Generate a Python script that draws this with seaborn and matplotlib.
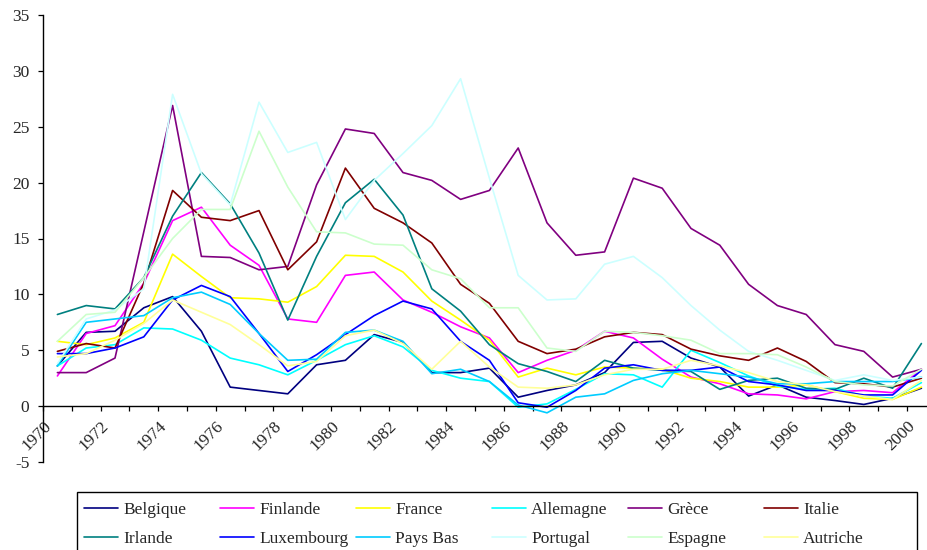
import numpy as np
import pandas as pd
import matplotlib
matplotlib.use('Agg')
import matplotlib.pyplot as plt
import seaborn as sns

sns.set_theme(style="ticks")
plt.rcParams['font.family'] = ['Liberation Serif', 'DejaVu Serif']
plt.rcParams['font.size'] = 12
plt.rcParams['axes.unicode_minus'] = False

years = list(range(1970, 2001))

belgique = [3.6, 6.6, 6.7, 8.8, 9.8, 6.7, 1.7, 1.4, 1.1, 3.7, 4.1, 6.4, 5.7, 3.0, 3.0, 3.4,
            0.8, 1.4, 1.9, 3.0, 5.7, 5.8, 4.3, 3.5, 0.9, 1.9, 0.8, 0.5, 0.15, 0.7, 1.6]
finlande = [2.7, 6.5, 7.2, 11.0, 16.6, 17.8, 14.4, 12.6, 7.8, 7.5, 11.7, 12.0, 9.5, 8.4, 7.1, 6.1,
            3.0, 4.1, 5.0, 6.7, 6.1, 4.2, 2.6, 2.0, 1.1, 1.0, 0.65, 1.3, 1.4, 1.2, 3.3]
france = [5.8, 5.5, 6.1, 7.5, 13.6, 11.6, 9.7, 9.6, 9.3, 10.7, 13.5, 13.4, 12.0, 9.4, 7.7, 5.9,
          2.6, 3.4, 2.8, 3.5, 3.4, 3.3, 2.5, 2.2, 1.7, 1.7, 1.9, 1.3, 0.7, 0.6, 1.7]
allemagne = [3.6, 5.2, 5.5, 7.0, 6.9, 5.9, 4.3, 3.7, 2.8, 4.1, 5.5, 6.3, 5.3, 3.2, 2.5, 2.2,
             -0.1, 0.2, 1.5, 2.9, 2.8, 1.7, 5.0, 3.9, 2.7, 1.8, 1.5, 1.6, 0.9, 0.7, 2.1]
grece = [3.0, 3.0, 4.3, 15.6, 26.9, 13.4, 13.3, 12.2, 12.5, 19.8, 24.8, 24.4, 20.9, 20.2, 18.5, 19.3,
         23.1, 16.4, 13.5, 13.8, 20.4, 19.5, 15.9, 14.4, 10.9, 9.0, 8.2, 5.5, 4.9, 2.6, 3.3]
italie = [4.9, 5.6, 5.2, 11.0, 19.3, 16.9, 16.6, 17.5, 12.2, 14.7, 21.3, 17.7, 16.4, 14.6, 10.9, 9.2,
          5.8, 4.7, 5.1, 6.2, 6.6, 6.4, 5.1, 4.5, 4.1, 5.2, 4.0, 2.1, 2.0, 1.7, 2.5]
irlande = [8.2, 9.0, 8.7, 11.5, 17.0, 20.9, 18.1, 13.7, 7.7, 13.4, 18.2, 20.3, 17.1, 10.5, 8.5, 5.5,
           3.8, 3.1, 2.2, 4.1, 3.4, 3.2, 3.1, 1.5, 2.3, 2.5, 1.6, 1.5, 2.5, 1.6, 5.6]
luxembourg = [4.7, 4.7, 5.2, 6.2, 9.5, 10.8, 9.8, 6.5, 3.1, 4.6, 6.4, 8.1, 9.4, 8.7, 5.8, 4.1,
              0.3, -0.1, 1.4, 3.4, 3.7, 3.2, 3.2, 3.5, 2.2, 1.9, 1.4, 1.4, 1.0, 1.0, 3.2]
pays_bas = [3.6, 7.5, 7.8, 8.1, 9.7, 10.2, 9.1, 6.5, 4.1, 4.2, 6.6, 6.8, 5.8, 2.9, 3.3, 2.2,
            0.1, -0.6, 0.8, 1.1, 2.3, 2.9, 3.2, 2.9, 2.6, 2.0, 2.0, 2.2, 2.2, 2.2, 2.6]
portugal = [3.8, 7.8, 8.6, 10.5, 27.9, 20.8, 18.0, 27.2, 22.7, 23.6, 16.7, 20.2, 22.6, 25.1, 29.3, 20.4,
            11.7, 9.5, 9.6, 12.7, 13.4, 11.5, 9.0, 6.8, 4.9, 4.1, 3.2, 2.3, 2.8, 2.3, 2.6]
espagne = [5.8, 8.2, 8.4, 11.5, 15.0, 17.6, 17.6, 24.6, 19.6, 15.6, 15.5, 14.5, 14.4, 12.2, 11.4, 8.8,
           8.8, 5.2, 4.9, 6.7, 6.6, 6.3, 5.9, 4.7, 4.7, 4.6, 3.5, 2.2, 1.9, 1.8, 3.3]
autriche = [4.4, 4.7, 5.9, 7.4, 9.5, 8.4, 7.3, 5.5, 3.6, 4.0, 6.3, 6.8, 5.6, 3.3, 5.8, 3.5,
            1.7, 1.6, 1.9, 2.8, 3.3, 3.3, 4.1, 3.6, 3.0, 2.2, 1.9, 1.3, 0.9, 0.6, 2.3]

countries = ['Belgique', 'Finlande', 'France', 'Allemagne', 'Grèce', 'Italie',
             'Irlande', 'Luxembourg', 'Pays Bas', 'Portugal', 'Espagne', 'Autriche']
values = [belgique, finlande, france, allemagne, grece, italie,
          irlande, luxembourg, pays_bas, portugal, espagne, autriche]
colors = ['#000080', '#FF00FF', '#FFFF00', '#00FFFF', '#800080', '#800000',
          '#008080', '#0000FF', '#00CCFF', '#CCFFFF', '#CCFFCC', '#FFFF99']

fig = plt.figure(figsize=(9.28, 5.5), dpi=100)
ax = fig.add_axes([43 / 928, 88 / 550, 885 / 928, 447 / 550])

handles = {}
for name, vals, col in zip(countries, values, colors):
    sns.lineplot(x=years, y=vals, color=col, linewidth=1.2, ax=ax, errorbar=None)
    handles[name] = ax.lines[-1]

# axes styled like the old Excel chart
ax.set_xlim(1969.5, 1969.5 + 885 / 28.8)
ax.set_ylim(-5, 35)
ax.set_yticks(range(-5, 40, 5))
ax.spines['top'].set_visible(False)
ax.spines['right'].set_visible(False)
ax.spines['bottom'].set_position(('data', 0))
for s in ['left', 'bottom']:
    ax.spines[s].set_color('black')
    ax.spines[s].set_linewidth(1.0)

major = np.arange(1969.5, 2000, 2)
ax.set_xticks(major)
ax.set_xticklabels([str(y) for y in range(1970, 2001, 2)], rotation=45,
                   ha='right', va='top', rotation_mode='anchor')
ax.set_xticks(np.arange(1970.5, 2000, 2), minor=True)
ax.tick_params(axis='x', which='both', direction='out', length=3.8, width=0.9,
               color='black', pad=5, labelsize=12.5)
ax.tick_params(axis='y', direction='out', length=3.8, width=0.9, color='black',
               pad=6, labelsize=12.5)
ax.set_xlabel('')
ax.set_ylabel('')
ax.grid(False)

# legend: six fixed-width columns inside one frame
col_x = [84, 220, 356, 492, 628, 764]
for i, cx in enumerate(col_x):
    names = [countries[i], countries[i + 6]]
    fig.legend([handles[n] for n in names], names, loc='upper left',
               bbox_to_anchor=(cx / 928, 1 - 502 / 550), frameon=False,
               handlelength=1.95, handletextpad=0.3, labelspacing=0.75,
               borderpad=0, borderaxespad=0, fontsize=12.5)
fig.add_artist(plt.Rectangle((77 / 928, 1 - 560 / 550), 840 / 928, 68 / 550,
                             transform=fig.transFigure, fill=False,
                             edgecolor='black', linewidth=1.0))

fig.savefig('out.png', dpi=100, facecolor='white')
